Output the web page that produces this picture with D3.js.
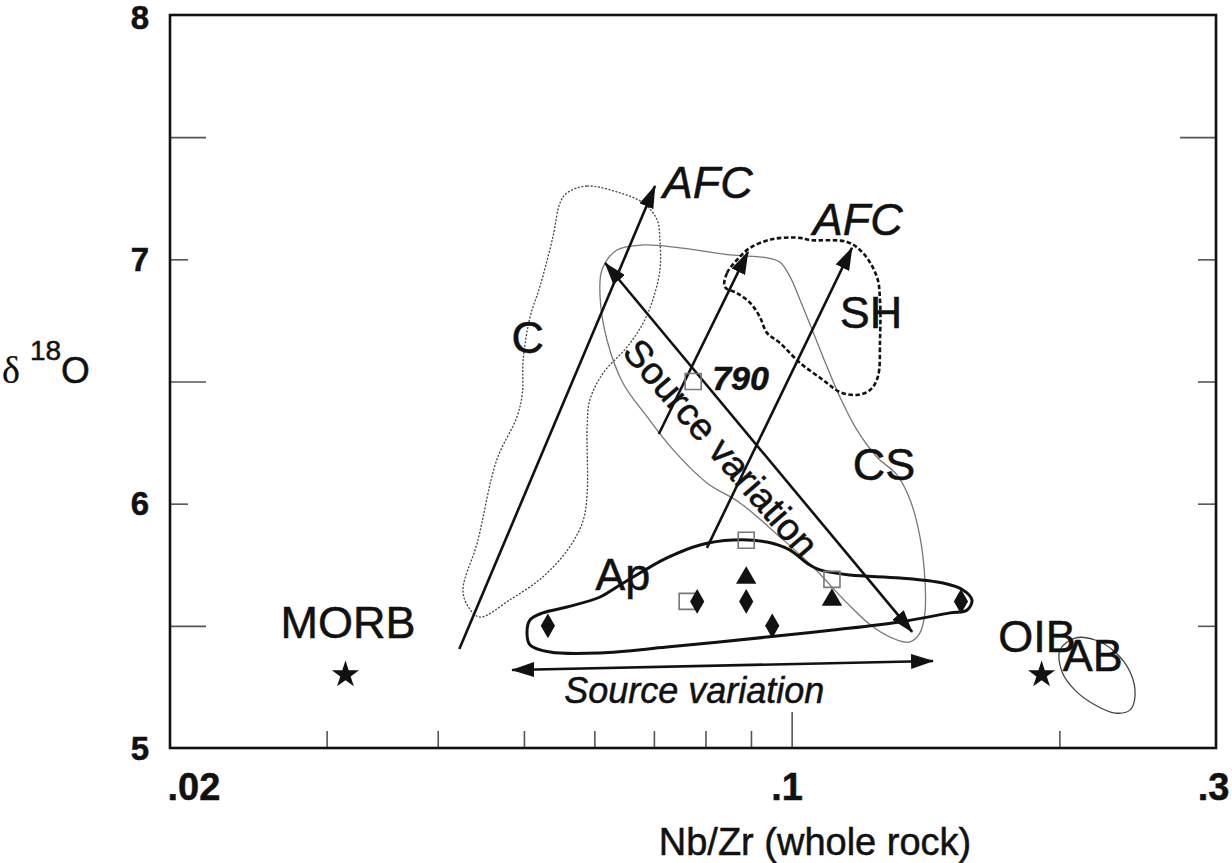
<!DOCTYPE html>
<html><head><meta charset="utf-8">
<script src="https://cdn.jsdelivr.net/npm/d3@7"></script>
<style>
body{margin:0;background:#fff}
svg{display:block}
text{font-family:"Liberation Sans",Arial,Helvetica,sans-serif;fill:#111;stroke:#111;stroke-width:0.5px}
</style>
</head><body>
<svg id="chart" width="1232" height="863"></svg>
<script>
// ---------------- data ----------------
const xTickLabelValues = [0.02, 0.1, 0.3];
const xTickLabels = [".02", ".1", ".3"];
const xMinorTicks = [0.03, 0.04, 0.05, 0.06, 0.07, 0.08, 0.09, 0.2];
const xMajorTicks = [0.1];
const yTickLabelValues = [5, 6, 7, 8];
const yLongTicksLeft = [5.5, 6.5, 7.5];
const yShortTicksLeft = [6, 7];
const yLongTicksRight = [7.5];
const yShortTicksRight = [5.5, 6, 6.5, 7];

const stars = [[0.0315, 5.30], [0.191, 5.30]];          // MORB, OIB
const squares = [[0.0775, 6.50], [0.0889, 5.85], [0.1110, 5.69], [0.0763, 5.60]];
const triangles = [[0.0889, 5.70], [0.1110, 5.61]];
const diamonds = [[0.0532, 5.50], [0.0783, 5.60], [0.0889, 5.60], [0.0951, 5.50], [0.155, 5.60]];

const outlineC = [[0.0559,7.272],[0.0589,7.300],[0.0636,7.276],[0.0681,7.231],[0.0706,7.161],[0.0711,7.079],
  [0.0711,6.957],[0.0698,6.834],[0.0681,6.740],[0.0653,6.641],[0.0614,6.535],[0.0593,6.424],[0.0589,6.314],
  [0.0589,6.044],[0.0583,5.933],[0.0563,5.823],[0.0525,5.700],[0.0482,5.606],[0.0446,5.536],[0.0433,5.577],
  [0.0427,5.647],[0.0443,5.839],[0.0466,6.179],[0.0491,6.355],[0.0498,6.453],[0.0499,6.588],[0.0508,6.764],
  [0.0521,6.887],[0.0539,7.092],[0.0549,7.231]];
const outlineCS = [[0.0612,6.957],[0.0636,7.038],[0.0681,7.059],[0.0749,7.047],[0.0853,7.018],[0.0938,7.006],
  [0.0970,6.989],[0.0996,6.928],[0.1022,6.834],[0.1057,6.703],[0.1096,6.560],[0.1133,6.437],[0.1184,6.302],
  [0.1247,6.191],[0.1314,6.117],[0.1359,6.015],[0.1394,5.864],[0.1412,5.688],[0.1412,5.553],[0.1394,5.471],
  [0.1359,5.434],[0.1314,5.442],[0.1235,5.495],[0.1154,5.594],[0.1057,5.741],[0.0970,5.864],[0.0875,6.003],
  [0.0803,6.085],[0.0736,6.220],[0.0688,6.355],[0.0646,6.494],[0.0620,6.670],[0.0609,6.846]];
const outlineSH = [[0.0841,6.887],[0.0846,6.944],[0.0868,6.998],[0.0898,7.047],[0.0953,7.083],[0.1022,7.088],
  [0.1049,7.079],[0.1154,7.071],[0.1203,7.026],[0.1247,6.928],[0.1257,6.834],[0.1257,6.670],[0.1250,6.519],
  [0.1225,6.465],[0.1184,6.445],[0.1133,6.457],[0.1085,6.506],[0.1022,6.576],[0.0970,6.658],[0.0938,6.699],
  [0.0921,6.764],[0.0898,6.822],[0.0868,6.862]];
const outlineAp = [[0.0504,5.471],[0.0508,5.524],[0.0525,5.553],[0.0559,5.577],[0.0609,5.618],[0.0636,5.659],
  [0.0675,5.716],[0.0724,5.778],[0.0789,5.831],[0.0859,5.851],[0.0938,5.843],[0.0996,5.810],[0.1040,5.757],
  [0.1076,5.729],[0.1163,5.708],[0.1324,5.696],[0.1480,5.675],[0.1558,5.647],[0.1595,5.606],[0.1575,5.565],
  [0.1507,5.553],[0.1324,5.516],[0.1113,5.483],[0.0938,5.454],[0.0724,5.413],[0.0609,5.389],[0.0535,5.393],
  [0.0508,5.422]];
const outlineAB = [[0.2003,5.401],[0.2082,5.450],[0.2194,5.442],[0.2310,5.393],[0.2402,5.311],[0.2433,5.217],
  [0.2402,5.156],[0.2310,5.143],[0.2194,5.176],[0.2082,5.237],[0.2014,5.311]];

const arrows = [
  {from:[0.0423,5.405], to:[0.0702,7.300], both:false},
  {from:[0.0617,6.985], to:[0.1366,5.475], both:true},
  {from:[0.0709,6.285], to:[0.0893,7.030], both:false},
  {from:[0.0803,5.819], to:[0.1169,7.047], both:false},
  {from:[0.0485,5.319], to:[0.1442,5.356], both:true}
];

const labels = [
  {t:"C",    x:0.0505, y:6.617, k:"big"},
  {t:"MORB", x:0.0317, y:5.450, k:"big"},
  {t:"OIB",  x:0.1888, y:5.393, k:"big"},
  {t:"AB",   x:0.2180, y:5.315, k:"big"},
  {t:"Ap",   x:0.0646, y:5.647, k:"big"},
  {t:"SH",   x:0.1228, y:6.719, k:"big"},
  {t:"CS",   x:0.1270, y:6.097, k:"big"},
  {t:"AFC",  x:0.0805, y:7.251, k:"afc"},
  {t:"AFC",  x:0.1187, y:7.100, k:"afc"},
  {t:"790",  x:0.0814, y:6.465, k:"num"},
  {t:"Source variation", x:0.0777, y:5.184, k:"src"}
];
const rotatedLabel = {t:"Source variation", x:0.0833, y:6.228};

// ---------------- chart ----------------
const svg = d3.select("#chart");
const L = 170, R = 1216, T = 15, B = 748;
const x = d3.scaleLog().domain([0.02, 0.3]).range([L, R]);
const y = d3.scaleLinear().domain([5, 8]).range([B, T]);

// arrowhead markers
const defs = svg.append("defs");
["end","start"].forEach(k => {
  defs.append("marker").attr("id","ah-"+k)
    .attr("markerUnits","userSpaceOnUse")
    .attr("viewBox","0 0 23 15").attr("refX",22).attr("refY",7.5)
    .attr("markerWidth",23).attr("markerHeight",15)
    .attr("orient", k==="end" ? "auto" : "auto-start-reverse")
    .append("path").attr("d","M0,0 L23,7.5 L0,15 Z").attr("fill","#111");
});

// ticks (via d3 axes)
function clean(g){ g.select(".domain").remove(); g.selectAll(".tick line").attr("stroke","#555").attr("stroke-width",1.6); }
svg.append("g").attr("transform",`translate(0,${B})`)
  .call(d3.axisBottom(x).tickValues(xMinorTicks).tickSizeInner(-17).tickSizeOuter(0).tickFormat(""))
  .call(clean);
svg.append("g").attr("transform",`translate(0,${B})`)
  .call(d3.axisBottom(x).tickValues(xMajorTicks).tickSizeInner(-36).tickSizeOuter(0).tickFormat(""))
  .call(clean);
svg.append("g").attr("transform",`translate(${L},0)`)
  .call(d3.axisLeft(y).tickValues(yLongTicksLeft).tickSizeInner(-36).tickSizeOuter(0).tickFormat(""))
  .call(clean);
svg.append("g").attr("transform",`translate(${L},0)`)
  .call(d3.axisLeft(y).tickValues(yShortTicksLeft).tickSizeInner(-18).tickSizeOuter(0).tickFormat(""))
  .call(clean);
svg.append("g").attr("transform",`translate(${R},0)`)
  .call(d3.axisRight(y).tickValues(yLongTicksRight).tickSizeInner(-36).tickSizeOuter(0).tickFormat(""))
  .call(clean);
svg.append("g").attr("transform",`translate(${R},0)`)
  .call(d3.axisRight(y).tickValues(yShortTicksRight).tickSizeInner(-18).tickSizeOuter(0).tickFormat(""))
  .call(clean);

// tick labels
const xl = svg.append("g").attr("transform",`translate(0,${B})`)
  .call(d3.axisBottom(x).tickValues(xTickLabelValues).tickSize(0).tickPadding(0)
    .tickFormat((d,i)=>xTickLabels[i]));
xl.select(".domain").remove();
xl.selectAll("text").attr("font-size",38).attr("font-weight","bold")
  .attr("font-family","Liberation Sans, Arial, sans-serif").attr("fill","#111")
  .attr("dy",null).attr("y",52)
  .attr("text-anchor",(d,i)=> i===0 ? "start" : "middle")
  .attr("dx",(d,i)=> i===0 ? -3 : (i===2 ? -3 : -5));
const yl = svg.append("g").attr("transform",`translate(${L},0)`)
  .call(d3.axisLeft(y).tickValues(yTickLabelValues).tickSize(0).tickPadding(21).tickFormat(d3.format("d")));
yl.select(".domain").remove();
yl.selectAll("text").attr("font-size",33).attr("font-weight","bold")
  .attr("font-family","Liberation Sans, Arial, sans-serif").attr("fill","#111")
  .attr("dy",d => d===8 ? "0.42em" : "0.34em");

// axis titles
svg.append("text").attr("x",815).attr("y",855).attr("text-anchor","middle")
  .attr("font-size",38).text("Nb/Zr (whole rock)");
const yt = svg.append("text").attr("x",2).attr("y",383);
yt.append("tspan").attr("font-family","Liberation Serif, DejaVu Serif, serif").attr("font-size",38)
  .style("stroke-width","0.2px").text("δ");
yt.append("tspan").attr("dx",10).attr("dy",-23).attr("font-size",28).text("18");
yt.append("tspan").attr("dy",23).attr("font-size",37).text("O");

// outlines
const line = d3.line().x(d=>x(d[0])).y(d=>y(d[1])).curve(d3.curveCatmullRomClosed.alpha(0.5));
svg.append("path").attr("d",line(outlineC)).attr("fill","none").attr("stroke","#444")
  .attr("stroke-width",1.3).attr("stroke-dasharray","2,1.6");
svg.append("path").attr("d",line(outlineCS)).attr("fill","none").attr("stroke","#777").attr("stroke-width",1.3);
svg.append("path").attr("d",line(outlineSH)).attr("fill","none").attr("stroke","#111")
  .attr("stroke-width",2.6).attr("stroke-dasharray","4.5,2.5");
svg.append("path").attr("d",line(outlineAp)).attr("fill","none").attr("stroke","#111").attr("stroke-width",3);
svg.append("path").attr("d",line(outlineAB)).attr("fill","none").attr("stroke","#444").attr("stroke-width",1.3);

// frame
svg.append("rect").attr("x",L).attr("y",T).attr("width",R-L).attr("height",B-T)
  .attr("fill","none").attr("stroke","#111").attr("stroke-width",2.6);

// arrows
svg.selectAll("line.arrow").data(arrows).join("line").attr("class","arrow")
  .attr("x1",d=>x(d.from[0])).attr("y1",d=>y(d.from[1]))
  .attr("x2",d=>x(d.to[0])).attr("y2",d=>y(d.to[1]))
  .attr("stroke","#111").attr("stroke-width",2.6)
  .attr("marker-end","url(#ah-end)")
  .attr("marker-start",d=>d.both ? "url(#ah-start)" : null);

// markers
svg.selectAll("path.sq").data(squares).join("path").attr("class","sq")
  .attr("transform",d=>`translate(${x(d[0])},${y(d[1])})`)
  .attr("d",d3.symbol(d3.symbolSquare,256)()).attr("fill","none").attr("stroke","#777").attr("stroke-width",1.6);
svg.selectAll("path.tri").data(triangles).join("path").attr("class","tri")
  .attr("transform",d=>`translate(${x(d[0])},${y(d[1])+1})`)
  .attr("d",d3.symbol(d3.symbolTriangle,180)()).attr("fill","#111");
svg.selectAll("path.dia").data(diamonds).join("path").attr("class","dia")
  .attr("transform",d=>`translate(${x(d[0])},${y(d[1])})`)
  .attr("d",d3.symbol(d3.symbolDiamond,175)()).attr("fill","#111");
svg.selectAll("path.star").data(stars).join("path").attr("class","star")
  .attr("transform",d=>`translate(${x(d[0])},${y(d[1])})`)
  .attr("d",d3.symbol(d3.symbolStar,230)()).attr("fill","#111");

// labels
const styles = {
  big:{size:45, style:"normal", weight:"normal", anchor:"middle"},
  afc:{size:45, style:"italic", weight:"normal", anchor:"middle"},
  num:{size:34, style:"italic", weight:"bold", anchor:"start"},
  src:{size:36, style:"italic", weight:"normal", anchor:"middle"}
};
svg.selectAll("text.lab").data(labels).join("text").attr("class","lab")
  .attr("x",d=>x(d.x)).attr("y",d=>y(d.y))
  .attr("font-size",d=>styles[d.k].size).attr("font-style",d=>styles[d.k].style)
  .attr("font-weight",d=>styles[d.k].weight).attr("text-anchor",d=>styles[d.k].anchor)
  .text(d=>d.t);
svg.append("text")
  .attr("transform",`translate(${x(rotatedLabel.x)},${y(rotatedLabel.y)}) rotate(49)`)
  .attr("text-anchor","middle").attr("dy","0.35em").attr("font-size",38)
  .text(rotatedLabel.t);
</script>
</body></html>
